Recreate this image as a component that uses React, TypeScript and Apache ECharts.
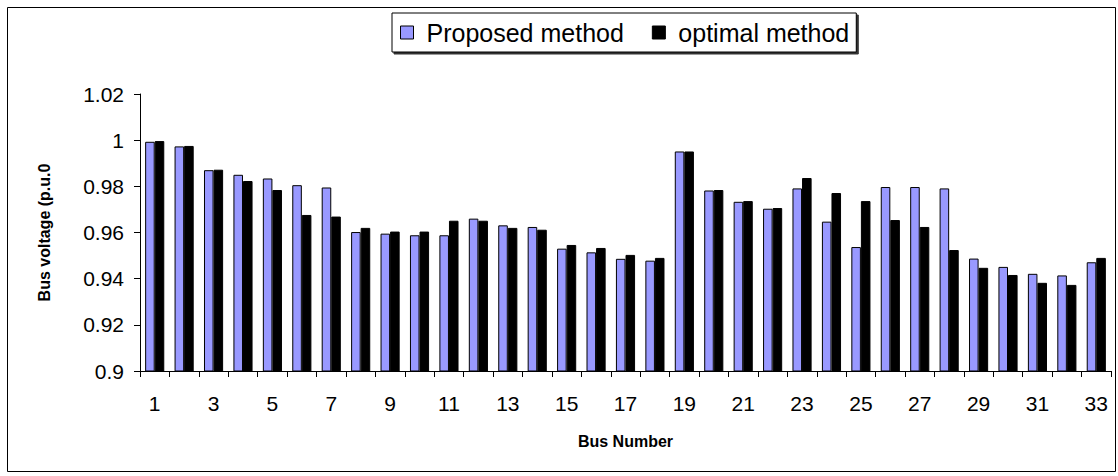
import React, { useEffect, useRef } from "react";
import * as echarts from "echarts";

const busNumbers: string[] = Array.from({ length: 33 }, (_, i) => String(i + 1));

const proposed: number[] = [
  0.9993, 0.9973, 0.987, 0.985, 0.9834, 0.9805, 0.9795, 0.9602, 0.9595, 0.9588, 0.9588,
  0.966, 0.9631, 0.9624, 0.953, 0.9514, 0.9486, 0.9478, 0.9951, 0.9782, 0.9733, 0.9703,
  0.9791, 0.9647, 0.9537, 0.9797, 0.9797, 0.9791, 0.9487, 0.9451, 0.9421, 0.9414, 0.9471,
];

const optimal: number[] = [
  0.9996, 0.9975, 0.9872, 0.9823, 0.9784, 0.9676, 0.9669, 0.962, 0.9604, 0.9604, 0.9651,
  0.9651, 0.962, 0.9612, 0.9546, 0.9533, 0.9503, 0.949, 0.9951, 0.9784, 0.9736, 0.9706,
  0.9836, 0.9771, 0.9736, 0.9654, 0.9624, 0.9524, 0.9447, 0.9416, 0.9382, 0.9373, 0.949,
];

const seriesNames: string[] = ["Proposed method", "optimal method"];
const yMin = 0.9;
const yMax = 1.02;
const yStep = 0.02;

const FONT = "'Liberation Sans', Arial, sans-serif";

export default function App() {
  const ref = useRef<HTMLDivElement>(null);
  useEffect(() => {
    if (!ref.current) return;
    const chart = echarts.init(ref.current, undefined, { renderer: "svg" });
    chart.setOption({
      animation: false,
      backgroundColor: "#ffffff",
      textStyle: { fontFamily: FONT },
      graphic: [
        {
          type: "rect",
          shape: { x: 7.5, y: 7.5, width: 1108, height: 464 },
          style: { fill: "none", stroke: "#000", lineWidth: 1 },
          silent: true,
        },
      ],
      legend: {
        left: 392,
        top: 13,
        padding: [7, 7, 7, 8],
        itemGap: 28,
        itemWidth: 13,
        itemHeight: 13,
        icon: "rect",
        borderColor: "#000",
        borderWidth: 1,
        backgroundColor: "#fff",
        shadowColor: "rgba(0,0,0,0.8)",
        shadowBlur: 1,
        shadowOffsetX: 2,
        shadowOffsetY: 2,
        itemStyle: { borderColor: "#000", borderWidth: 1 },
        textStyle: { fontFamily: FONT, fontSize: 25, color: "#000", padding: [0, 0, 0, 8] },
        data: seriesNames,
      },
      grid: { left: 140, right: 7, top: 94, bottom: 105, containLabel: false },
      xAxis: {
        type: "category",
        data: busNumbers,
        name: "Bus Number",
        nameLocation: "middle",
        nameGap: 62,
        nameTextStyle: { fontFamily: FONT, fontSize: 16, fontWeight: "bold", color: "#000" },
        axisLine: { show: true, lineStyle: { color: "#000", width: 1 } },
        axisTick: { show: true, interval: 0, length: 6, lineStyle: { color: "#000" } },
        axisLabel: { interval: 1, fontFamily: FONT, fontSize: 21, color: "#000", margin: 22 },
        splitLine: { show: false },
      },
      yAxis: {
        type: "value",
        min: yMin,
        max: yMax,
        interval: yStep,
        name: "Bus voltage (p.u.0",
        nameLocation: "middle",
        nameRotate: 90,
        nameGap: 88,
        nameTextStyle: { fontFamily: FONT, fontSize: 16, fontWeight: "bold", color: "#000" },
        axisLine: { show: true, lineStyle: { color: "#000", width: 1 } },
        axisTick: { show: true, length: 6, lineStyle: { color: "#000" } },
        axisLabel: { fontFamily: FONT, fontSize: 21, color: "#000", margin: 16 },
        splitLine: { show: false },
      },
      series: [
        {
          name: seriesNames[0],
          type: "bar",
          data: proposed,
          barGap: "0%",
          barCategoryGap: "35%",
          itemStyle: { color: "#9999FF", borderColor: "#000", borderWidth: 1 },
        },
        {
          name: seriesNames[1],
          type: "bar",
          data: optimal,
          barGap: "0%",
          barCategoryGap: "35%",
          itemStyle: { color: "#000000", borderColor: "#000", borderWidth: 1 },
        },
      ],
    });
    return () => chart.dispose();
  }, []);
  return (
    <div
      ref={ref}
      style={{ position: "absolute", left: 0, top: 0, width: 1118, height: 476, background: "#fff" }}
    />
  );
}
